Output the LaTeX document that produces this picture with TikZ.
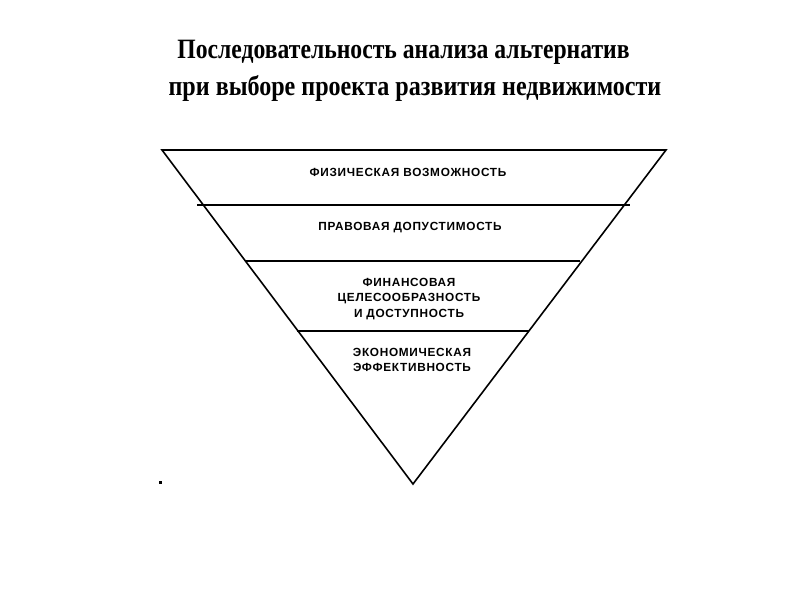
\documentclass[tikz,border=0pt]{standalone}
\usepackage{fontspec}
\setmainfont{Liberation Serif}
\newfontfamily\lblfont[LetterSpace=6]{Liberation Sans}
\begin{document}
\begin{tikzpicture}[x=1pt,y=-1pt,
  edge/.style={line width=1.6pt,line join=miter},
  sep/.style={line width=1.6pt},
  lbl/.style={font=\lblfont\bfseries\fontsize{11.8}{15.5}\selectfont,align=center,inner sep=0pt},
  ttl/.style={font=\bfseries\fontsize{28}{35}\selectfont,inner sep=0pt}]
\useasboundingbox[fill=white] (0,0) rectangle (800,600);
\coordinate (tl) at (162,150);
\coordinate (tr) at (666,150);
\coordinate (ap) at (413,484);
\draw[edge] (tl) -- (tr) -- (ap) -- cycle;
\coordinate (a1) at (197,205); \coordinate (b1) at (630,205);
\coordinate (a2) at (245,261); \coordinate (b2) at (580,261);
\coordinate (a3) at (297,331); \coordinate (b3) at (529,331);
\draw[sep] (a1) -- (b1);
\draw[sep] (a2) -- (b2);
\draw[sep] (a3) -- (b3);
\node[ttl,xscale=0.845] (t1) at (403.5,52) {Последовательность анализа альтернатив};
\node[ttl,xscale=0.86] (t2) at (415,88) {при выборе проекта развития недвижимости};
\node[lbl] (l1) at (408,172) {ФИЗИЧЕСКАЯ ВОЗМОЖНОСТЬ};
\node[lbl] (l2) at (410,228) {ПРАВОВАЯ ДОПУСТИМОСТЬ};
\node[lbl] (l3) at (409,299) {ФИНАНСОВАЯ\\ЦЕЛЕСООБРАЗНОСТЬ\\И ДОСТУПНОСТЬ};
\node[lbl] (l4) at (412,360) {ЭКОНОМИЧЕСКАЯ\\ЭФФЕКТИВНОСТЬ};
\fill (159,481) rectangle (161.5,483.5);
\end{tikzpicture}
\end{document}
